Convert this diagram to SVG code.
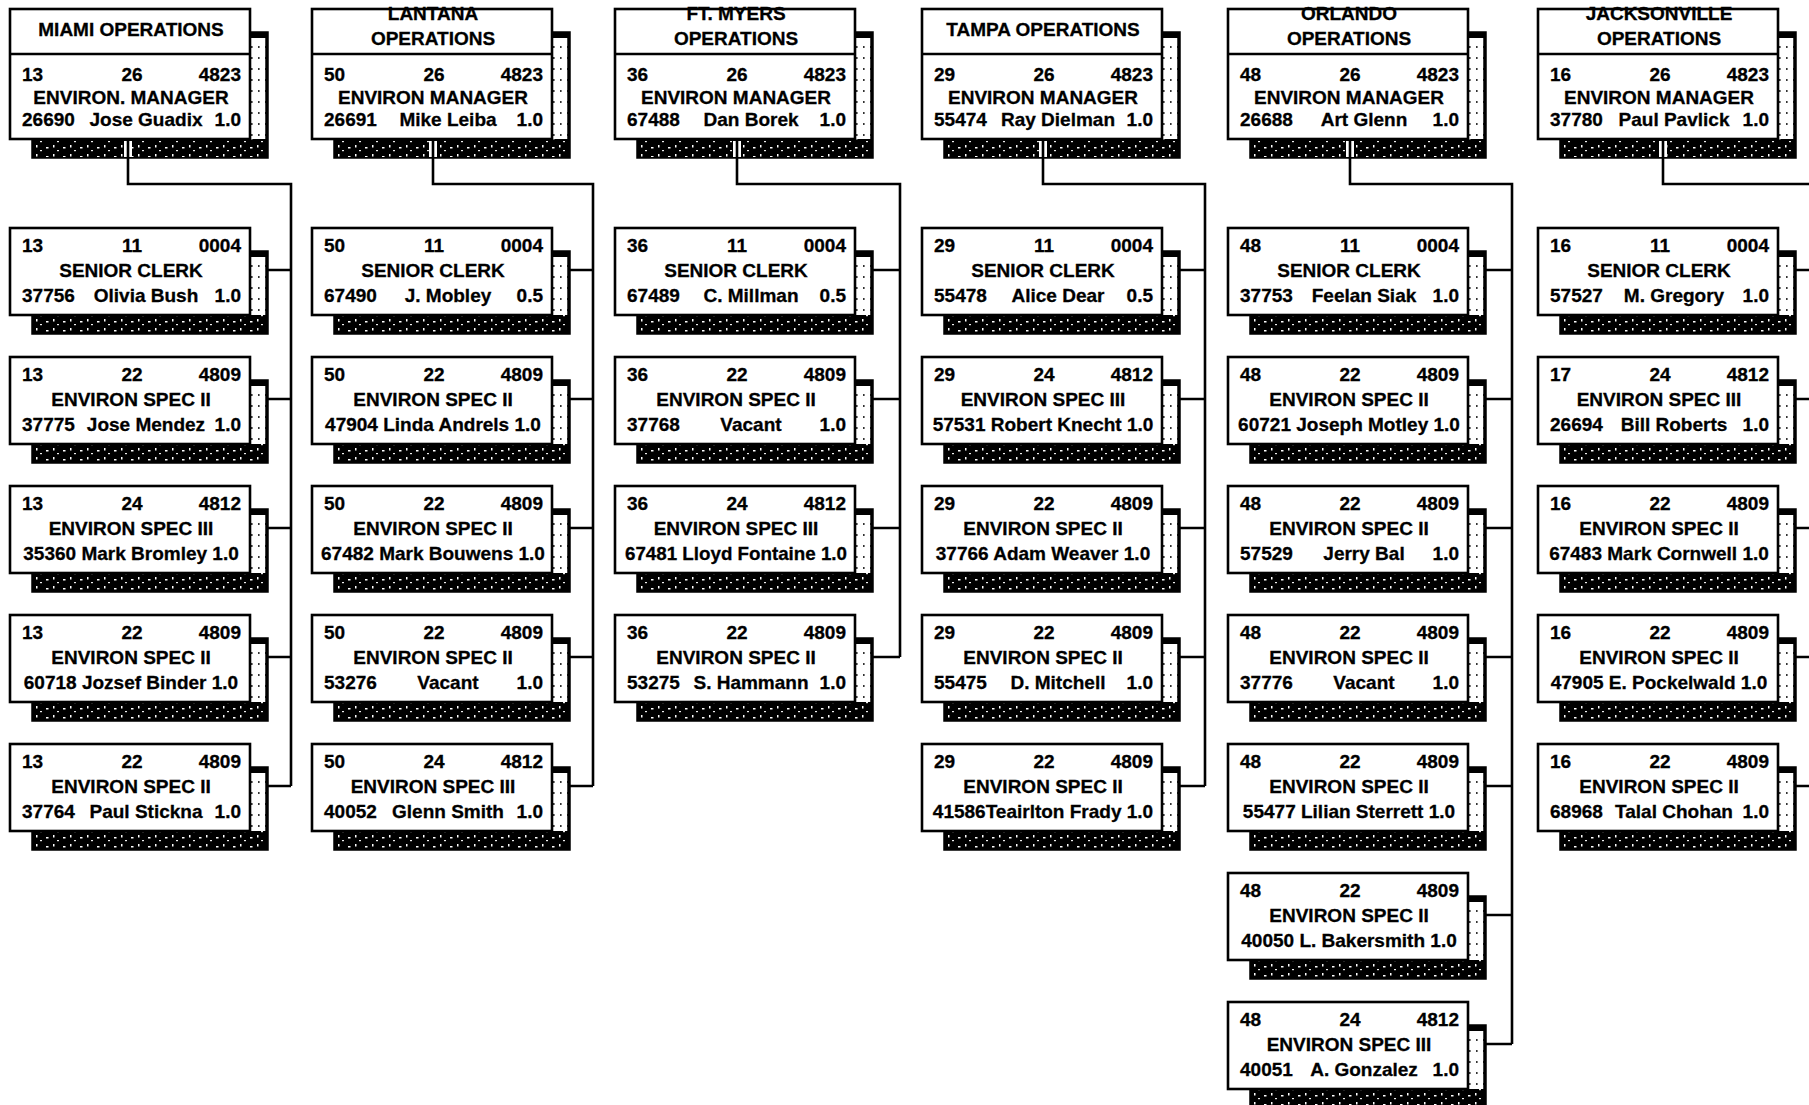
<svg xmlns="http://www.w3.org/2000/svg" width="1809" height="1105" viewBox="0 0 1809 1105">
<defs>
<pattern id="nz" width="17" height="9" patternUnits="userSpaceOnUse">
<rect width="17" height="9" fill="#000"/>
<rect x="2" y="3" width="2.5" height="1.5" fill="#fff"/>
<rect x="9" y="1" width="1.5" height="2.5" fill="#fff"/>
<rect x="13" y="6" width="2" height="1.2" fill="#eee"/>
</pattern>
<pattern id="dots" width="7" height="11" patternUnits="userSpaceOnUse">
<rect width="7" height="11" fill="#fff"/>
<rect x="3" y="4" width="1.6" height="2" fill="#333"/>
</pattern>
<style>
.so{fill:url(#dots);stroke:#000;stroke-width:3.5}
.sb{fill:url(#nz)}
.cap{fill:#000}
.bx{fill:#fff;stroke:#000;stroke-width:2.6}
.dv{stroke:#000;stroke-width:2.4}
.t{font-family:"Liberation Sans",Arial,sans-serif;font-weight:bold;font-size:19px;fill:#000;stroke:#000;stroke-width:0.3}
.m{text-anchor:middle}
.e{text-anchor:end}
.cn{fill:none;stroke:#000;stroke-width:2.6}
.gap{fill:none;stroke:#fff;stroke-width:8}
</style>
</defs>
<rect width="1809" height="1105" fill="#fff"/>

<!-- ============ MIAMI ============ -->
<g id="miami-mgr" transform="translate(10,9)">
<rect class="so" x="23" y="24" width="234" height="124"/><rect class="cap" x="240" y="24" width="17" height="5"/><rect class="sb" x="23" y="130" width="234" height="18"/><rect class="bx" width="240" height="130"/><line class="dv" x1="0" y1="45" x2="240" y2="45"/>
<text class="t m" x="121" y="27">MIAMI OPERATIONS</text>
<text class="t" x="12" y="72">13</text><text class="t m" x="122" y="72">26</text><text class="t e" x="231" y="72">4823</text>
<text class="t m" x="121" y="94.5">ENVIRON. MANAGER</text>
<text class="t" x="12" y="117">26690</text><text class="t m" x="136" y="117">Jose Guadix</text><text class="t e" x="231" y="117">1.0</text>
</g>
<g id="miami-1" transform="translate(10,228)">
<rect class="so" x="23" y="24" width="234" height="81"/><rect class="cap" x="240" y="24" width="17" height="5"/><rect class="sb" x="23" y="87" width="234" height="18"/><rect class="bx" width="240" height="87"/>
<text class="t" x="12" y="24">13</text><text class="t m" x="122" y="24">11</text><text class="t e" x="231" y="24">0004</text>
<text class="t m" x="121" y="49">SENIOR CLERK</text>
<text class="t" x="12" y="74">37756</text><text class="t m" x="136" y="74">Olivia Bush</text><text class="t e" x="231" y="74">1.0</text>
</g>
<g id="miami-2" transform="translate(10,357)">
<rect class="so" x="23" y="24" width="234" height="81"/><rect class="cap" x="240" y="24" width="17" height="5"/><rect class="sb" x="23" y="87" width="234" height="18"/><rect class="bx" width="240" height="87"/>
<text class="t" x="12" y="24">13</text><text class="t m" x="122" y="24">22</text><text class="t e" x="231" y="24">4809</text>
<text class="t m" x="121" y="49">ENVIRON SPEC II</text>
<text class="t" x="12" y="74">37775</text><text class="t m" x="136" y="74">Jose Mendez</text><text class="t e" x="231" y="74">1.0</text>
</g>
<g id="miami-3" transform="translate(10,486)">
<rect class="so" x="23" y="24" width="234" height="81"/><rect class="cap" x="240" y="24" width="17" height="5"/><rect class="sb" x="23" y="87" width="234" height="18"/><rect class="bx" width="240" height="87"/>
<text class="t" x="12" y="24">13</text><text class="t m" x="122" y="24">24</text><text class="t e" x="231" y="24">4812</text>
<text class="t m" x="121" y="49">ENVIRON SPEC III</text>
<text class="t m" x="121" y="74">35360 Mark Bromley 1.0</text>
</g>
<g id="miami-4" transform="translate(10,615)">
<rect class="so" x="23" y="24" width="234" height="81"/><rect class="cap" x="240" y="24" width="17" height="5"/><rect class="sb" x="23" y="87" width="234" height="18"/><rect class="bx" width="240" height="87"/>
<text class="t" x="12" y="24">13</text><text class="t m" x="122" y="24">22</text><text class="t e" x="231" y="24">4809</text>
<text class="t m" x="121" y="49">ENVIRON SPEC II</text>
<text class="t m" x="121" y="74">60718 Jozsef Binder 1.0</text>
</g>
<g id="miami-5" transform="translate(10,744)">
<rect class="so" x="23" y="24" width="234" height="81"/><rect class="cap" x="240" y="24" width="17" height="5"/><rect class="sb" x="23" y="87" width="234" height="18"/><rect class="bx" width="240" height="87"/>
<text class="t" x="12" y="24">13</text><text class="t m" x="122" y="24">22</text><text class="t e" x="231" y="24">4809</text>
<text class="t m" x="121" y="49">ENVIRON SPEC II</text>
<text class="t" x="12" y="74">37764</text><text class="t m" x="136" y="74">Paul Stickna</text><text class="t e" x="231" y="74">1.0</text>
</g>

<!-- ============ LANTANA ============ -->
<g id="lantana-mgr" transform="translate(312,9)">
<rect class="so" x="23" y="24" width="234" height="124"/><rect class="cap" x="240" y="24" width="17" height="5"/><rect class="sb" x="23" y="130" width="234" height="18"/><rect class="bx" width="240" height="130"/><line class="dv" x1="0" y1="45" x2="240" y2="45"/>
<text class="t m" x="121" y="11">LANTANA</text><text class="t m" x="121" y="36">OPERATIONS</text>
<text class="t" x="12" y="72">50</text><text class="t m" x="122" y="72">26</text><text class="t e" x="231" y="72">4823</text>
<text class="t m" x="121" y="94.5">ENVIRON MANAGER</text>
<text class="t" x="12" y="117">26691</text><text class="t m" x="136" y="117">Mike Leiba</text><text class="t e" x="231" y="117">1.0</text>
</g>
<g id="lantana-1" transform="translate(312,228)">
<rect class="so" x="23" y="24" width="234" height="81"/><rect class="cap" x="240" y="24" width="17" height="5"/><rect class="sb" x="23" y="87" width="234" height="18"/><rect class="bx" width="240" height="87"/>
<text class="t" x="12" y="24">50</text><text class="t m" x="122" y="24">11</text><text class="t e" x="231" y="24">0004</text>
<text class="t m" x="121" y="49">SENIOR CLERK</text>
<text class="t" x="12" y="74">67490</text><text class="t m" x="136" y="74">J. Mobley</text><text class="t e" x="231" y="74">0.5</text>
</g>
<g id="lantana-2" transform="translate(312,357)">
<rect class="so" x="23" y="24" width="234" height="81"/><rect class="cap" x="240" y="24" width="17" height="5"/><rect class="sb" x="23" y="87" width="234" height="18"/><rect class="bx" width="240" height="87"/>
<text class="t" x="12" y="24">50</text><text class="t m" x="122" y="24">22</text><text class="t e" x="231" y="24">4809</text>
<text class="t m" x="121" y="49">ENVIRON SPEC II</text>
<text class="t m" x="121" y="74">47904 Linda Andrels 1.0</text>
</g>
<g id="lantana-3" transform="translate(312,486)">
<rect class="so" x="23" y="24" width="234" height="81"/><rect class="cap" x="240" y="24" width="17" height="5"/><rect class="sb" x="23" y="87" width="234" height="18"/><rect class="bx" width="240" height="87"/>
<text class="t" x="12" y="24">50</text><text class="t m" x="122" y="24">22</text><text class="t e" x="231" y="24">4809</text>
<text class="t m" x="121" y="49">ENVIRON SPEC II</text>
<text class="t m" x="121" y="74">67482 Mark Bouwens 1.0</text>
</g>
<g id="lantana-4" transform="translate(312,615)">
<rect class="so" x="23" y="24" width="234" height="81"/><rect class="cap" x="240" y="24" width="17" height="5"/><rect class="sb" x="23" y="87" width="234" height="18"/><rect class="bx" width="240" height="87"/>
<text class="t" x="12" y="24">50</text><text class="t m" x="122" y="24">22</text><text class="t e" x="231" y="24">4809</text>
<text class="t m" x="121" y="49">ENVIRON SPEC II</text>
<text class="t" x="12" y="74">53276</text><text class="t m" x="136" y="74">Vacant</text><text class="t e" x="231" y="74">1.0</text>
</g>
<g id="lantana-5" transform="translate(312,744)">
<rect class="so" x="23" y="24" width="234" height="81"/><rect class="cap" x="240" y="24" width="17" height="5"/><rect class="sb" x="23" y="87" width="234" height="18"/><rect class="bx" width="240" height="87"/>
<text class="t" x="12" y="24">50</text><text class="t m" x="122" y="24">24</text><text class="t e" x="231" y="24">4812</text>
<text class="t m" x="121" y="49">ENVIRON SPEC III</text>
<text class="t" x="12" y="74">40052</text><text class="t m" x="136" y="74">Glenn Smith</text><text class="t e" x="231" y="74">1.0</text>
</g>

<!-- ============ FT. MYERS ============ -->
<g id="ftmyers-mgr" transform="translate(615,9)">
<rect class="so" x="23" y="24" width="234" height="124"/><rect class="cap" x="240" y="24" width="17" height="5"/><rect class="sb" x="23" y="130" width="234" height="18"/><rect class="bx" width="240" height="130"/><line class="dv" x1="0" y1="45" x2="240" y2="45"/>
<text class="t m" x="121" y="11">FT. MYERS</text><text class="t m" x="121" y="36">OPERATIONS</text>
<text class="t" x="12" y="72">36</text><text class="t m" x="122" y="72">26</text><text class="t e" x="231" y="72">4823</text>
<text class="t m" x="121" y="94.5">ENVIRON MANAGER</text>
<text class="t" x="12" y="117">67488</text><text class="t m" x="136" y="117">Dan Borek</text><text class="t e" x="231" y="117">1.0</text>
</g>
<g id="ftmyers-1" transform="translate(615,228)">
<rect class="so" x="23" y="24" width="234" height="81"/><rect class="cap" x="240" y="24" width="17" height="5"/><rect class="sb" x="23" y="87" width="234" height="18"/><rect class="bx" width="240" height="87"/>
<text class="t" x="12" y="24">36</text><text class="t m" x="122" y="24">11</text><text class="t e" x="231" y="24">0004</text>
<text class="t m" x="121" y="49">SENIOR CLERK</text>
<text class="t" x="12" y="74">67489</text><text class="t m" x="136" y="74">C. Millman</text><text class="t e" x="231" y="74">0.5</text>
</g>
<g id="ftmyers-2" transform="translate(615,357)">
<rect class="so" x="23" y="24" width="234" height="81"/><rect class="cap" x="240" y="24" width="17" height="5"/><rect class="sb" x="23" y="87" width="234" height="18"/><rect class="bx" width="240" height="87"/>
<text class="t" x="12" y="24">36</text><text class="t m" x="122" y="24">22</text><text class="t e" x="231" y="24">4809</text>
<text class="t m" x="121" y="49">ENVIRON SPEC II</text>
<text class="t" x="12" y="74">37768</text><text class="t m" x="136" y="74">Vacant</text><text class="t e" x="231" y="74">1.0</text>
</g>
<g id="ftmyers-3" transform="translate(615,486)">
<rect class="so" x="23" y="24" width="234" height="81"/><rect class="cap" x="240" y="24" width="17" height="5"/><rect class="sb" x="23" y="87" width="234" height="18"/><rect class="bx" width="240" height="87"/>
<text class="t" x="12" y="24">36</text><text class="t m" x="122" y="24">24</text><text class="t e" x="231" y="24">4812</text>
<text class="t m" x="121" y="49">ENVIRON SPEC III</text>
<text class="t m" x="121" y="74" textLength="222" lengthAdjust="spacingAndGlyphs">67481 Lloyd Fontaine 1.0</text>
</g>
<g id="ftmyers-4" transform="translate(615,615)">
<rect class="so" x="23" y="24" width="234" height="81"/><rect class="cap" x="240" y="24" width="17" height="5"/><rect class="sb" x="23" y="87" width="234" height="18"/><rect class="bx" width="240" height="87"/>
<text class="t" x="12" y="24">36</text><text class="t m" x="122" y="24">22</text><text class="t e" x="231" y="24">4809</text>
<text class="t m" x="121" y="49">ENVIRON SPEC II</text>
<text class="t" x="12" y="74">53275</text><text class="t m" x="136" y="74">S. Hammann</text><text class="t e" x="231" y="74">1.0</text>
</g>

<!-- ============ TAMPA ============ -->
<g id="tampa-mgr" transform="translate(922,9)">
<rect class="so" x="23" y="24" width="234" height="124"/><rect class="cap" x="240" y="24" width="17" height="5"/><rect class="sb" x="23" y="130" width="234" height="18"/><rect class="bx" width="240" height="130"/><line class="dv" x1="0" y1="45" x2="240" y2="45"/>
<text class="t m" x="121" y="27">TAMPA OPERATIONS</text>
<text class="t" x="12" y="72">29</text><text class="t m" x="122" y="72">26</text><text class="t e" x="231" y="72">4823</text>
<text class="t m" x="121" y="94.5">ENVIRON MANAGER</text>
<text class="t" x="12" y="117">55474</text><text class="t m" x="136" y="117">Ray Dielman</text><text class="t e" x="231" y="117">1.0</text>
</g>
<g id="tampa-1" transform="translate(922,228)">
<rect class="so" x="23" y="24" width="234" height="81"/><rect class="cap" x="240" y="24" width="17" height="5"/><rect class="sb" x="23" y="87" width="234" height="18"/><rect class="bx" width="240" height="87"/>
<text class="t" x="12" y="24">29</text><text class="t m" x="122" y="24">11</text><text class="t e" x="231" y="24">0004</text>
<text class="t m" x="121" y="49">SENIOR CLERK</text>
<text class="t" x="12" y="74">55478</text><text class="t m" x="136" y="74">Alice Dear</text><text class="t e" x="231" y="74">0.5</text>
</g>
<g id="tampa-2" transform="translate(922,357)">
<rect class="so" x="23" y="24" width="234" height="81"/><rect class="cap" x="240" y="24" width="17" height="5"/><rect class="sb" x="23" y="87" width="234" height="18"/><rect class="bx" width="240" height="87"/>
<text class="t" x="12" y="24">29</text><text class="t m" x="122" y="24">24</text><text class="t e" x="231" y="24">4812</text>
<text class="t m" x="121" y="49">ENVIRON SPEC III</text>
<text class="t m" x="121" y="74">57531 Robert Knecht 1.0</text>
</g>
<g id="tampa-3" transform="translate(922,486)">
<rect class="so" x="23" y="24" width="234" height="81"/><rect class="cap" x="240" y="24" width="17" height="5"/><rect class="sb" x="23" y="87" width="234" height="18"/><rect class="bx" width="240" height="87"/>
<text class="t" x="12" y="24">29</text><text class="t m" x="122" y="24">22</text><text class="t e" x="231" y="24">4809</text>
<text class="t m" x="121" y="49">ENVIRON SPEC II</text>
<text class="t m" x="121" y="74">37766 Adam Weaver 1.0</text>
</g>
<g id="tampa-4" transform="translate(922,615)">
<rect class="so" x="23" y="24" width="234" height="81"/><rect class="cap" x="240" y="24" width="17" height="5"/><rect class="sb" x="23" y="87" width="234" height="18"/><rect class="bx" width="240" height="87"/>
<text class="t" x="12" y="24">29</text><text class="t m" x="122" y="24">22</text><text class="t e" x="231" y="24">4809</text>
<text class="t m" x="121" y="49">ENVIRON SPEC II</text>
<text class="t" x="12" y="74">55475</text><text class="t m" x="136" y="74">D. Mitchell</text><text class="t e" x="231" y="74">1.0</text>
</g>
<g id="tampa-5" transform="translate(922,744)">
<rect class="so" x="23" y="24" width="234" height="81"/><rect class="cap" x="240" y="24" width="17" height="5"/><rect class="sb" x="23" y="87" width="234" height="18"/><rect class="bx" width="240" height="87"/>
<text class="t" x="12" y="24">29</text><text class="t m" x="122" y="24">22</text><text class="t e" x="231" y="24">4809</text>
<text class="t m" x="121" y="49">ENVIRON SPEC II</text>
<text class="t m" x="121" y="74">41586Teairlton Frady 1.0</text>
</g>

<!-- ============ ORLANDO ============ -->
<g id="orlando-mgr" transform="translate(1228,9)">
<rect class="so" x="23" y="24" width="234" height="124"/><rect class="cap" x="240" y="24" width="17" height="5"/><rect class="sb" x="23" y="130" width="234" height="18"/><rect class="bx" width="240" height="130"/><line class="dv" x1="0" y1="45" x2="240" y2="45"/>
<text class="t m" x="121" y="11">ORLANDO</text><text class="t m" x="121" y="36">OPERATIONS</text>
<text class="t" x="12" y="72">48</text><text class="t m" x="122" y="72">26</text><text class="t e" x="231" y="72">4823</text>
<text class="t m" x="121" y="94.5">ENVIRON MANAGER</text>
<text class="t" x="12" y="117">26688</text><text class="t m" x="136" y="117">Art Glenn</text><text class="t e" x="231" y="117">1.0</text>
</g>
<g id="orlando-1" transform="translate(1228,228)">
<rect class="so" x="23" y="24" width="234" height="81"/><rect class="cap" x="240" y="24" width="17" height="5"/><rect class="sb" x="23" y="87" width="234" height="18"/><rect class="bx" width="240" height="87"/>
<text class="t" x="12" y="24">48</text><text class="t m" x="122" y="24">11</text><text class="t e" x="231" y="24">0004</text>
<text class="t m" x="121" y="49">SENIOR CLERK</text>
<text class="t" x="12" y="74">37753</text><text class="t m" x="136" y="74">Feelan Siak</text><text class="t e" x="231" y="74">1.0</text>
</g>
<g id="orlando-2" transform="translate(1228,357)">
<rect class="so" x="23" y="24" width="234" height="81"/><rect class="cap" x="240" y="24" width="17" height="5"/><rect class="sb" x="23" y="87" width="234" height="18"/><rect class="bx" width="240" height="87"/>
<text class="t" x="12" y="24">48</text><text class="t m" x="122" y="24">22</text><text class="t e" x="231" y="24">4809</text>
<text class="t m" x="121" y="49">ENVIRON SPEC II</text>
<text class="t m" x="121" y="74">60721 Joseph Motley 1.0</text>
</g>
<g id="orlando-3" transform="translate(1228,486)">
<rect class="so" x="23" y="24" width="234" height="81"/><rect class="cap" x="240" y="24" width="17" height="5"/><rect class="sb" x="23" y="87" width="234" height="18"/><rect class="bx" width="240" height="87"/>
<text class="t" x="12" y="24">48</text><text class="t m" x="122" y="24">22</text><text class="t e" x="231" y="24">4809</text>
<text class="t m" x="121" y="49">ENVIRON SPEC II</text>
<text class="t" x="12" y="74">57529</text><text class="t m" x="136" y="74">Jerry Bal</text><text class="t e" x="231" y="74">1.0</text>
</g>
<g id="orlando-4" transform="translate(1228,615)">
<rect class="so" x="23" y="24" width="234" height="81"/><rect class="cap" x="240" y="24" width="17" height="5"/><rect class="sb" x="23" y="87" width="234" height="18"/><rect class="bx" width="240" height="87"/>
<text class="t" x="12" y="24">48</text><text class="t m" x="122" y="24">22</text><text class="t e" x="231" y="24">4809</text>
<text class="t m" x="121" y="49">ENVIRON SPEC II</text>
<text class="t" x="12" y="74">37776</text><text class="t m" x="136" y="74">Vacant</text><text class="t e" x="231" y="74">1.0</text>
</g>
<g id="orlando-5" transform="translate(1228,744)">
<rect class="so" x="23" y="24" width="234" height="81"/><rect class="cap" x="240" y="24" width="17" height="5"/><rect class="sb" x="23" y="87" width="234" height="18"/><rect class="bx" width="240" height="87"/>
<text class="t" x="12" y="24">48</text><text class="t m" x="122" y="24">22</text><text class="t e" x="231" y="24">4809</text>
<text class="t m" x="121" y="49">ENVIRON SPEC II</text>
<text class="t m" x="121" y="74">55477 Lilian Sterrett 1.0</text>
</g>
<g id="orlando-6" transform="translate(1228,873)">
<rect class="so" x="23" y="24" width="234" height="81"/><rect class="cap" x="240" y="24" width="17" height="5"/><rect class="sb" x="23" y="87" width="234" height="18"/><rect class="bx" width="240" height="87"/>
<text class="t" x="12" y="24">48</text><text class="t m" x="122" y="24">22</text><text class="t e" x="231" y="24">4809</text>
<text class="t m" x="121" y="49">ENVIRON SPEC II</text>
<text class="t m" x="121" y="74">40050 L. Bakersmith 1.0</text>
</g>
<g id="orlando-7" transform="translate(1228,1002)">
<rect class="so" x="23" y="24" width="234" height="81"/><rect class="cap" x="240" y="24" width="17" height="5"/><rect class="sb" x="23" y="87" width="234" height="18"/><rect class="bx" width="240" height="87"/>
<text class="t" x="12" y="24">48</text><text class="t m" x="122" y="24">24</text><text class="t e" x="231" y="24">4812</text>
<text class="t m" x="121" y="49">ENVIRON SPEC III</text>
<text class="t" x="12" y="74">40051</text><text class="t m" x="136" y="74">A. Gonzalez</text><text class="t e" x="231" y="74">1.0</text>
</g>

<!-- ============ JACKSONVILLE ============ -->
<g id="jacksonville-mgr" transform="translate(1538,9)">
<rect class="so" x="23" y="24" width="234" height="124"/><rect class="cap" x="240" y="24" width="17" height="5"/><rect class="sb" x="23" y="130" width="234" height="18"/><rect class="bx" width="240" height="130"/><line class="dv" x1="0" y1="45" x2="240" y2="45"/>
<text class="t m" x="121" y="11">JACKSONVILLE</text><text class="t m" x="121" y="36">OPERATIONS</text>
<text class="t" x="12" y="72">16</text><text class="t m" x="122" y="72">26</text><text class="t e" x="231" y="72">4823</text>
<text class="t m" x="121" y="94.5">ENVIRON MANAGER</text>
<text class="t" x="12" y="117">37780</text><text class="t m" x="136" y="117">Paul Pavlick</text><text class="t e" x="231" y="117">1.0</text>
</g>
<g id="jacksonville-1" transform="translate(1538,228)">
<rect class="so" x="23" y="24" width="234" height="81"/><rect class="cap" x="240" y="24" width="17" height="5"/><rect class="sb" x="23" y="87" width="234" height="18"/><rect class="bx" width="240" height="87"/>
<text class="t" x="12" y="24">16</text><text class="t m" x="122" y="24">11</text><text class="t e" x="231" y="24">0004</text>
<text class="t m" x="121" y="49">SENIOR CLERK</text>
<text class="t" x="12" y="74">57527</text><text class="t m" x="136" y="74">M. Gregory</text><text class="t e" x="231" y="74">1.0</text>
</g>
<g id="jacksonville-2" transform="translate(1538,357)">
<rect class="so" x="23" y="24" width="234" height="81"/><rect class="cap" x="240" y="24" width="17" height="5"/><rect class="sb" x="23" y="87" width="234" height="18"/><rect class="bx" width="240" height="87"/>
<text class="t" x="12" y="24">17</text><text class="t m" x="122" y="24">24</text><text class="t e" x="231" y="24">4812</text>
<text class="t m" x="121" y="49">ENVIRON SPEC III</text>
<text class="t" x="12" y="74">26694</text><text class="t m" x="136" y="74">Bill Roberts</text><text class="t e" x="231" y="74">1.0</text>
</g>
<g id="jacksonville-3" transform="translate(1538,486)">
<rect class="so" x="23" y="24" width="234" height="81"/><rect class="cap" x="240" y="24" width="17" height="5"/><rect class="sb" x="23" y="87" width="234" height="18"/><rect class="bx" width="240" height="87"/>
<text class="t" x="12" y="24">16</text><text class="t m" x="122" y="24">22</text><text class="t e" x="231" y="24">4809</text>
<text class="t m" x="121" y="49">ENVIRON SPEC II</text>
<text class="t m" x="121" y="74">67483 Mark Cornwell 1.0</text>
</g>
<g id="jacksonville-4" transform="translate(1538,615)">
<rect class="so" x="23" y="24" width="234" height="81"/><rect class="cap" x="240" y="24" width="17" height="5"/><rect class="sb" x="23" y="87" width="234" height="18"/><rect class="bx" width="240" height="87"/>
<text class="t" x="12" y="24">16</text><text class="t m" x="122" y="24">22</text><text class="t e" x="231" y="24">4809</text>
<text class="t m" x="121" y="49">ENVIRON SPEC II</text>
<text class="t m" x="121" y="74">47905 E. Pockelwald 1.0</text>
</g>
<g id="jacksonville-5" transform="translate(1538,744)">
<rect class="so" x="23" y="24" width="234" height="81"/><rect class="cap" x="240" y="24" width="17" height="5"/><rect class="sb" x="23" y="87" width="234" height="18"/><rect class="bx" width="240" height="87"/>
<text class="t" x="12" y="24">16</text><text class="t m" x="122" y="24">22</text><text class="t e" x="231" y="24">4809</text>
<text class="t m" x="121" y="49">ENVIRON SPEC II</text>
<text class="t" x="12" y="74">68968</text><text class="t m" x="136" y="74">Talal Chohan</text><text class="t e" x="231" y="74">1.0</text>
</g>

<!-- ============ CONNECTORS ============ -->
<g id="connectors">
<path class="gap" d="M128 141V157M433 141V157M737 141V157M1043 141V157M1350 141V157M1663 141V157"/>
<path class="cn" d="M128 139V184H291V786M267 270H291M267 399H291M267 528H291M267 657H291M267 786H291"/>
<path class="cn" d="M433 139V184H593V786M569 270H593M569 399H593M569 528H593M569 657H593M569 786H593"/>
<path class="cn" d="M737 139V184H900V657M872 270H900M872 399H900M872 528H900M872 657H900"/>
<path class="cn" d="M1043 139V184H1205V786M1179 270H1205M1179 399H1205M1179 528H1205M1179 657H1205M1179 786H1205"/>
<path class="cn" d="M1350 139V184H1512V1044M1485 270H1512M1485 399H1512M1485 528H1512M1485 657H1512M1485 786H1512M1485 915H1512M1485 1044H1512"/>
<path class="cn" d="M1663 139V184H1815M1795 270H1815M1795 399H1815M1795 528H1815M1795 657H1815M1795 786H1815"/>
</g>
</svg>
